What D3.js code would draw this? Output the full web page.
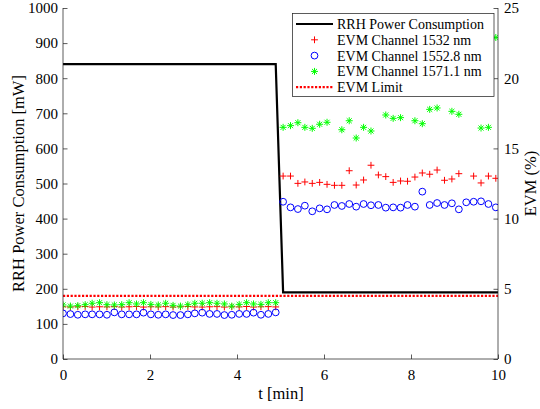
<!DOCTYPE html>
<html>
<head>
<meta charset="utf-8">
<script src="https://cdn.jsdelivr.net/npm/d3@7"></script>
<style>
  body { margin: 0; background: #fff; }
  svg { display: block; }
  text { font-family: "Liberation Serif", "Times New Roman", serif; fill: #000; }
</style>
</head>
<body>
<svg id="chart" width="540" height="409"></svg>
<script>
// Sample times (minutes), one measurement roughly every 10 s
const timeMin = [
  0.00, 0.17, 0.34, 0.51, 0.67, 0.84, 1.01, 1.18, 1.35, 1.52,
  1.69, 1.85, 2.02, 2.19, 2.36, 2.53, 2.70, 2.87, 3.03, 3.20,
  3.37, 3.54, 3.71, 3.88, 4.05, 4.22, 4.38, 4.55, 4.72, 4.89,
  5.06, 5.23, 5.40, 5.56, 5.73, 5.90, 6.07, 6.24, 6.41, 6.58,
  6.74, 6.91, 7.08, 7.25, 7.42, 7.59, 7.76, 7.92, 8.09, 8.26,
  8.43, 8.60, 8.77, 8.94, 9.10, 9.27, 9.44, 9.61, 9.78, 9.95
];

// RRH power consumption (mW)
const powerTime = [0, 4.89, 5.06, 10];
const powerMw = [840, 840, 190, 190];

// EVM per channel (%)
const evm1532 = [
  3.72, 3.70, 3.72, 3.74, 3.70, 3.72, 3.71, 3.73, 3.70, 3.72,
  3.74, 3.70, 3.72, 3.71, 3.73, 3.70, 3.72, 3.74, 3.71, 3.70,
  3.72, 3.73, 3.70, 3.72, 3.71, 3.74, 3.70, 3.72, 3.73, 3.71,
  13.03, 13.03, 12.51, 12.61, 12.51, 12.58, 12.44, 12.37, 12.37, 13.41,
  12.39, 12.75, 13.80, 13.11, 12.99, 12.58, 12.68, 12.66, 12.96, 13.25,
  13.16, 13.46, 12.73, 12.82, 13.20, 19.20, 13.03, 12.54, 13.03, 12.87
];
const evm1552 = [
  3.25, 3.20, 3.15, 3.18, 3.18, 3.18, 3.15, 3.32, 3.18, 3.18,
  3.18, 3.30, 3.18, 3.15, 3.18, 3.13, 3.13, 3.18, 3.25, 3.30,
  3.21, 3.21, 3.13, 3.15, 3.21, 3.21, 3.30, 3.15, 3.21, 3.32,
  11.20, 10.80, 10.68, 10.92, 10.52, 10.73, 10.66, 10.97, 10.90, 11.04,
  10.85, 11.04, 10.95, 10.97, 10.78, 10.80, 10.78, 10.97, 10.85, 11.92,
  10.97, 11.11, 10.97, 11.09, 10.66, 11.16, 11.20, 11.23, 11.04, 10.80
];
const evm1571 = [
  3.85, 3.77, 3.80, 3.87, 3.97, 4.01, 3.87, 3.85, 3.87, 4.01,
  3.92, 4.01, 3.89, 3.85, 3.97, 3.82, 3.77, 3.87, 3.97, 3.97,
  4.01, 3.97, 3.92, 3.77, 3.89, 4.01, 3.92, 3.89, 4.01, 4.01,
  16.50, 16.62, 16.83, 16.50, 16.43, 16.72, 16.86, 19.50, 16.33, 16.97,
  15.74, 16.50, 16.24, 19.30, 17.38, 17.14, 17.19, 19.80, 16.97, 16.76,
  17.78, 17.88, 20.10, 17.64, 17.43, 19.60, 19.40, 16.45, 16.50, 22.90
];
const evmLimit = 4.5;

// Axis ticks and labels
const xTicks = [0, 2, 4, 6, 8, 10];
const powerTicks = [0, 100, 200, 300, 400, 500, 600, 700, 800, 900, 1000];
const evmTicks = [0, 5, 10, 15, 20, 25];
const legendLabels = [
  "RRH Power Consumption",
  "EVM Channel 1532 nm",
  "EVM Channel 1552.8 nm",
  "EVM Channel 1571.1 nm",
  "EVM Limit"
];

const serif = '"Liberation Serif", "Times New Roman", serif';
const svg = d3.select("#chart");
const plot = { left: 63, right: 498, top: 8, bottom: 359 };
const axisColor = "#262626";

const x = d3.scaleLinear().domain([0, 10]).range([plot.left, plot.right]);
const yPower = d3.scaleLinear().domain([0, 1000]).range([plot.bottom, plot.top]);
const yEvm = d3.scaleLinear().domain([0, 25]).range([plot.bottom, plot.top]);

svg.append("clipPath").attr("id", "plot-clip")
  .append("rect")
  .attr("x", plot.left).attr("y", plot.top - 4)
  .attr("width", plot.right - plot.left).attr("height", plot.bottom - plot.top + 4);

// Power trace
const powerLine = d3.line().x((d, i) => x(powerTime[i])).y(d => yPower(d));
svg.append("path")
  .datum(powerMw)
  .attr("d", powerLine)
  .attr("fill", "none")
  .attr("stroke", "#000")
  .attr("stroke-width", 2.2)
  .attr("clip-path", "url(#plot-clip)");

// Marker shapes
function plusPath(s) { return `M${-s},0H${s}M0,${-s}V${s}`; }
function starPath(s) {
  const d = s * 0.72;
  return `M${-s},0H${s}M0,${-s}V${s}M${-d},${-d}L${d},${d}M${-d},${d}L${d},${-d}`;
}

const markers = svg.append("g").attr("clip-path", "url(#plot-clip)");

markers.append("g").selectAll("path")
  .data(evm1532)
  .join("path")
  .attr("transform", (d, i) => `translate(${x(timeMin[i])},${yEvm(d)})`)
  .attr("d", plusPath(3.4))
  .attr("fill", "none")
  .attr("stroke", "#ff0000")
  .attr("stroke-width", 1);

markers.append("g").selectAll("circle")
  .data(evm1552)
  .join("circle")
  .attr("cx", (d, i) => x(timeMin[i]))
  .attr("cy", d => yEvm(d))
  .attr("r", 3.4)
  .attr("fill", "none")
  .attr("stroke", "#0000ff")
  .attr("stroke-width", 1);

markers.append("g").selectAll("path")
  .data(evm1571)
  .join("path")
  .attr("transform", (d, i) => `translate(${x(timeMin[i])},${yEvm(d)})`)
  .attr("d", starPath(3.5))
  .attr("fill", "none")
  .attr("stroke", "#00ff00")
  .attr("stroke-width", 1);

// EVM limit
svg.append("line")
  .attr("x1", x(0)).attr("x2", x(10))
  .attr("y1", yEvm(evmLimit)).attr("y2", yEvm(evmLimit))
  .attr("stroke", "#ff0000")
  .attr("stroke-width", 2.2)
  .attr("stroke-dasharray", "2.2,1.6");

// Axes
function styleAxis(g) {
  g.attr("font-family", serif).attr("font-size", 15);
  g.select(".domain").remove();
  g.selectAll(".tick line").attr("stroke", axisColor).attr("stroke-width", 0.75);
  g.selectAll(".tick text").attr("fill", "#000");
}
const fmt = d3.format("d");

svg.append("g")
  .attr("transform", `translate(0,${plot.bottom})`)
  .call(d3.axisBottom(x).tickValues(xTicks).tickFormat(fmt).tickSize(-4.5).tickSizeOuter(0).tickPadding(10.5))
  .call(styleAxis);

svg.append("g")
  .attr("transform", `translate(${plot.left},0)`)
  .call(d3.axisLeft(yPower).tickValues(powerTicks).tickFormat(fmt).tickSize(-4.5).tickSizeOuter(0).tickPadding(5))
  .call(styleAxis);

svg.append("g")
  .attr("transform", `translate(${plot.right},0)`)
  .call(d3.axisRight(yEvm).tickValues(evmTicks).tickFormat(fmt).tickSize(-4.5).tickSizeOuter(0).tickPadding(6))
  .call(styleAxis);

// Axis lines
const axisLines = svg.append("g").attr("stroke", axisColor).attr("stroke-width", 0.75);
axisLines.append("line").attr("x1", plot.left).attr("x2", plot.right).attr("y1", plot.bottom).attr("y2", plot.bottom);
axisLines.append("line").attr("x1", plot.left).attr("x2", plot.left).attr("y1", plot.top).attr("y2", plot.bottom);
axisLines.append("line").attr("x1", plot.right).attr("x2", plot.right).attr("y1", plot.top).attr("y2", plot.bottom);

// Axis titles
svg.append("text")
  .attr("x", (plot.left + plot.right) / 2 + 0.5)
  .attr("y", 399)
  .attr("text-anchor", "middle")
  .attr("font-size", 16.5)
  .text("t [min]");

svg.append("text")
  .attr("transform", `translate(24,${(plot.top + plot.bottom) / 2}) rotate(-90)`)
  .attr("text-anchor", "middle")
  .attr("font-size", 16.5)
  .text("RRH Power Consumption [mW]");

svg.append("text")
  .attr("transform", `translate(535.5,${(plot.top + plot.bottom) / 2}) rotate(-90)`)
  .attr("text-anchor", "middle")
  .attr("font-size", 16.5)
  .text("EVM (%)");

// Legend
const legend = svg.append("g");
legend.append("rect")
  .attr("x", 292.5).attr("y", 13.5)
  .attr("width", 201.5).attr("height", 83)
  .attr("fill", "#fff")
  .attr("stroke", axisColor)
  .attr("stroke-width", 0.75);

const rowY = i => 24 + i * 15.8;
const sampleX1 = 296, sampleX2 = 333, sampleMid = 314.5;

legend.append("line")
  .attr("x1", sampleX1).attr("x2", sampleX2).attr("y1", rowY(0)).attr("y2", rowY(0))
  .attr("stroke", "#000").attr("stroke-width", 2.2);
legend.append("path")
  .attr("transform", `translate(${sampleMid},${rowY(1)})`)
  .attr("d", plusPath(3.4)).attr("fill", "none").attr("stroke", "#ff0000").attr("stroke-width", 1);
legend.append("circle")
  .attr("cx", sampleMid).attr("cy", rowY(2)).attr("r", 3.4)
  .attr("fill", "none").attr("stroke", "#0000ff").attr("stroke-width", 1);
legend.append("path")
  .attr("transform", `translate(${sampleMid},${rowY(3)})`)
  .attr("d", starPath(3.5)).attr("fill", "none").attr("stroke", "#00ff00").attr("stroke-width", 1);
legend.append("line")
  .attr("x1", sampleX1).attr("x2", sampleX2).attr("y1", rowY(4)).attr("y2", rowY(4))
  .attr("stroke", "#ff0000").attr("stroke-width", 2.2).attr("stroke-dasharray", "2.2,1.6");

legend.selectAll("text.label")
  .data(legendLabels)
  .join("text")
  .attr("class", "label")
  .attr("x", 337)
  .attr("y", (d, i) => rowY(i))
  .attr("dy", "0.35em")
  .attr("font-size", 14)
  .text(d => d);
</script>
</body>
</html>
